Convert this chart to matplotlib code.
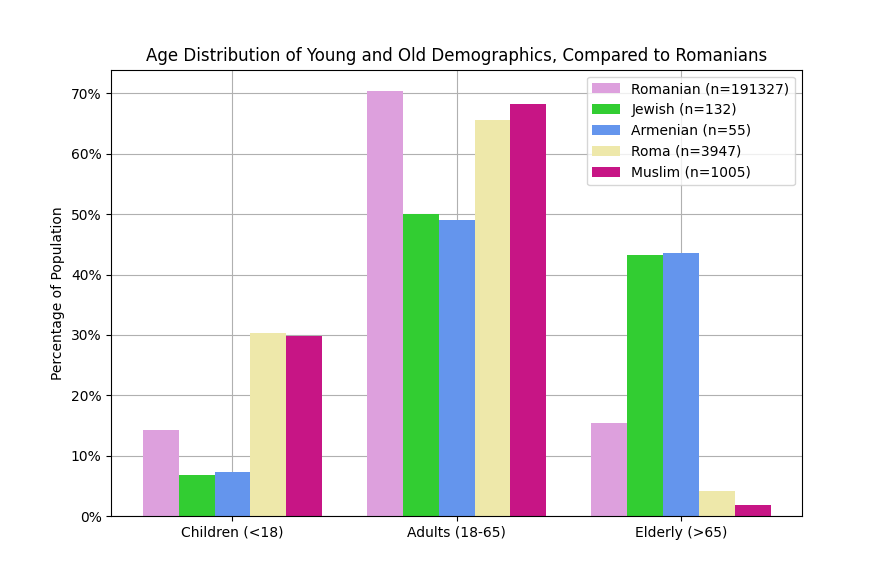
import numpy as np
import matplotlib
matplotlib.use("Agg")
import matplotlib.pyplot as plt
from matplotlib.ticker import PercentFormatter

categories = ["Children (<18)", "Adults (18-65)", "Elderly (>65)"]
groups = ["Romanian (n=191327)", "Jewish (n=132)", "Armenian (n=55)", "Roma (n=3947)", "Muslim (n=1005)"]
romanian = [14.2, 70.4, 15.4]
jewish = [6.8, 50.0, 43.2]
armenian = [7.3, 49.1, 43.6]
roma = [30.3, 65.6, 4.1]
muslim = [29.9, 68.3, 1.8]
colors = ["plum", "limegreen", "cornflowerblue", "palegoldenrod", "mediumvioletred"]

series = [romanian, jewish, armenian, roma, muslim]

fig, ax = plt.subplots(figsize=(8.91, 5.8), dpi=100)
ax.set_axisbelow(True)
x = np.arange(len(categories))
w = 0.16
for i, (vals, lab, c) in enumerate(zip(series, groups, colors)):
    ax.bar(x + (i - 2) * w, vals, w, label=lab, color=c)

ax.set_xticks(x)
ax.set_xticklabels(categories)
ax.yaxis.set_major_formatter(PercentFormatter(decimals=0))
ax.set_ylabel("Percentage of Population")
ax.set_title("Age Distribution of Young and Old Demographics, Compared to Romanians")
ax.grid(True, color="#b0b0b0")
ax.legend(loc="upper right")
fig.savefig("out.png", dpi=100)
